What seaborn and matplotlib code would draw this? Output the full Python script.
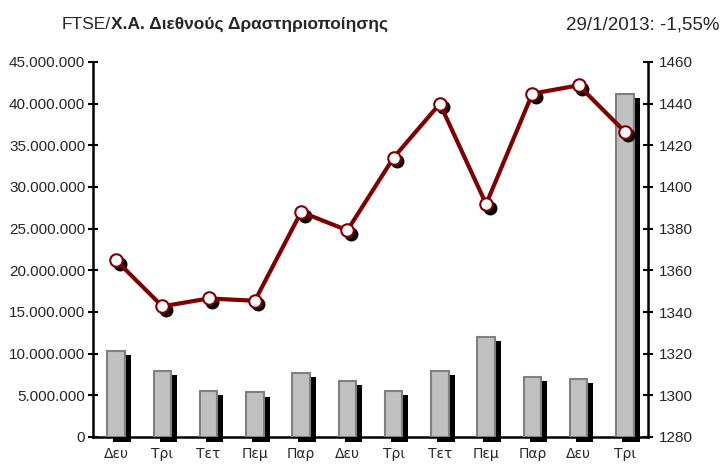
import matplotlib
matplotlib.use("Agg")
import matplotlib.pyplot as plt
import matplotlib.transforms as mtrans
from matplotlib.ticker import FuncFormatter, FixedLocator
from matplotlib.patches import Rectangle
from matplotlib import font_manager
import seaborn as sns
import pandas as pd

days = ["Δευ", "Τρι", "Τετ", "Πεμ", "Παρ", "Δευ", "Τρι", "Τετ", "Πεμ", "Παρ", "Δευ", "Τρι"]
volume = [10350000, 7950000, 5580000, 5370000, 7740000, 6780000, 5580000, 7970000,
          12050000, 7260000, 7020000, 41200000]
index_vals = [1364.8, 1342.7, 1346.5, 1345.4, 1388.0, 1379.2, 1414.1, 1440.0,
              1391.8, 1444.8, 1448.8, 1426.5]
title_left = "FTSE/"
title_bold = "Χ.Α. Διεθνούς Δραστηριοποίησης"
title_right = "29/1/2013: -1,55%"

sns.set_theme(style="white")
names = {f.name for f in font_manager.fontManager.ttflist}
base = "Liberation Sans" if "Liberation Sans" in names else "DejaVu Sans"
narrow = "Liberation Sans Narrow" if "Liberation Sans Narrow" in names else base
plt.rcParams["font.family"] = [base, "DejaVu Sans"]

df = pd.DataFrame({"pos": list(range(len(days))), "volume": volume, "index": index_vals})

fig = plt.figure(figsize=(7.24, 4.66), dpi=100)
ax = fig.add_axes([93 / 724, 1 - 437 / 466, (648 - 93) / 724, (437 - 62) / 466])

sns.barplot(data=df, x="pos", y="volume", ax=ax, color="#C0C0C0", width=0.38,
            edgecolor="#808080", linewidth=1.5, saturation=1, zorder=3)

# drop shadows for bars
shadow_off = mtrans.ScaledTranslation(6 / 100, -4.5 / 100, fig.dpi_scale_trans)
for p in list(ax.patches):
    r = Rectangle((p.get_x(), p.get_y()), p.get_width(), p.get_height(),
                  facecolor="black", edgecolor="none", zorder=2,
                  transform=ax.transData + shadow_off, clip_on=False)
    ax.add_patch(r)

ax.set_xlim(-0.5, len(days) - 0.5)
ax.set_ylim(0, 45000000)
ax.yaxis.set_major_locator(FixedLocator(list(range(0, 45000001, 5000000))))
ax.yaxis.set_major_formatter(FuncFormatter(lambda v, _: f"{int(v):,}".replace(",", ".")))
ax.set_xticks(range(len(days)))
ax.set_xticklabels(days, fontsize=10, family="DejaVu Sans")
ax.set_xticks([i - 0.5 for i in range(len(days) + 1)], minor=True)
ax.tick_params(axis="x", which="major", length=0, pad=7)
ax.tick_params(axis="x", which="minor", direction="inout", length=7, width=1.5, color="black")
ax.tick_params(axis="y", direction="inout", length=7, width=1.5, color="black",
               labelsize=11, pad=2)
ax.set_xlabel("")
ax.set_ylabel("")
for s in ["left", "bottom"]:
    ax.spines[s].set_color("black")
    ax.spines[s].set_linewidth(1.8)
ax.spines["top"].set_visible(False)
ax.spines["right"].set_visible(False)

ax2 = ax.twinx()
ax2.set_ylim(1280, 1460)
ax2.yaxis.set_major_locator(FixedLocator(list(range(1280, 1461, 20))))
ax2.tick_params(axis="y", direction="inout", length=7, width=1.5, color="black",
                labelsize=11, pad=4)
for s in ["top", "left", "bottom"]:
    ax2.spines[s].set_visible(False)
ax2.spines["right"].set_color("black")
ax2.spines["right"].set_linewidth(1.8)

mk_off = mtrans.ScaledTranslation(3.5 / 100, -3.5 / 100, fig.dpi_scale_trans)
ax2.plot(df["pos"], df["index"], linestyle="none", marker="o", markersize=9,
         color="black", transform=ax2.transData + mk_off, zorder=2)
sns.lineplot(data=df, x="pos", y="index", ax=ax2, color="#800000", linewidth=3,
             marker="o", markersize=9, markerfacecolor="white",
             markeredgecolor="#800000", markeredgewidth=1.5, zorder=3)
ax2.set_xlabel("")
ax2.set_ylabel("")
ax2.set_xlim(-0.5, len(days) - 0.5)

t1 = fig.text(62 / 724, 1 - 29 / 466, title_left, fontsize=12.5, family=[narrow, "DejaVu Sans"],
              ha="left", va="baseline")
ax.annotate(title_bold, xy=(1, 0), xycoords=t1, fontsize=12.5, fontweight="bold",
            family=[narrow, "DejaVu Sans"], ha="left", va="bottom", annotation_clip=False)
fig.text(720 / 724, 1 - 29 / 466, title_right, fontsize=13.5, family=[narrow, "DejaVu Sans"],
         ha="right", va="baseline")

fig.savefig("out.png", dpi=100)
